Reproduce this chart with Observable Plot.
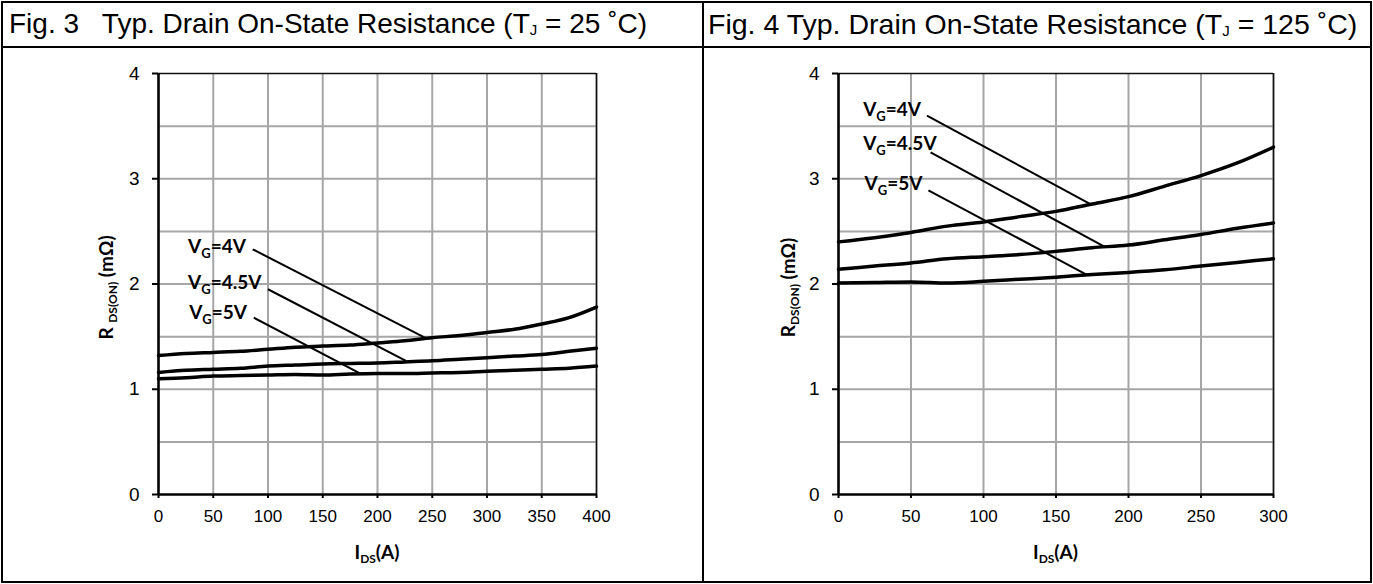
<!DOCTYPE html>
<html>
<head>
<meta charset="utf-8">
<script src="https://cdn.jsdelivr.net/npm/d3@7"></script>
<script src="https://cdn.jsdelivr.net/npm/@observablehq/plot@0.6"></script>
<style>
  html, body { margin: 0; padding: 0; background: #fff; }
  #wrap { position: relative; width: 1373px; height: 584px; overflow: hidden; font-family: "Liberation Sans", Arial, sans-serif; }
  .chart { position: absolute; top: 46px; }
  .panel { position: absolute; top: 1px; height: 582px; border: 2px solid #000; box-sizing: border-box; pointer-events: none; }
  .title { position: absolute; left: 0; right: 0; top: 0; height: 45px; border-bottom: 2px solid #000; box-sizing: border-box;
           font-size: 28px; line-height: 42px; white-space: pre; padding-left: 6px; color: #000; }
  .title sub { font-size: 15px; vertical-align: baseline; position: relative; top: 2px; }
</style>
</head>
<body>
<div id="wrap">
  <div id="c1" class="chart" style="left:0px"></div>
  <div id="c2" class="chart" style="left:700px"></div>
  <div class="panel" style="left:1px;width:703px"><div class="title">Fig. 3   Typ. Drain On-State Resistance (T<sub>J</sub> = 25 ˚C)</div></div>
  <div class="panel" style="left:702px;width:670px"><div class="title" style="padding-left:4px;font-size:28.5px">Fig. 4 Typ. Drain On-State Resistance (T<sub>J</sub> = 125 ˚C)</div></div>
</div>
<script>
// ---------- data : Fig. 3 (TJ = 25 °C) ----------
const ids25      = [0, 25, 50, 75, 100, 125, 150, 175, 200, 225, 250, 275, 300, 325, 350, 375, 400];
const rds25_vg4  = [1.32, 1.34, 1.35, 1.36, 1.38, 1.40, 1.41, 1.42, 1.44, 1.46, 1.49, 1.51, 1.54, 1.57, 1.62, 1.68, 1.78];
const rds25_vg45 = [1.16, 1.18, 1.19, 1.20, 1.22, 1.23, 1.24, 1.245, 1.25, 1.26, 1.27, 1.285, 1.30, 1.315, 1.33, 1.36, 1.39];
const rds25_vg5  = [1.10, 1.11, 1.125, 1.13, 1.135, 1.14, 1.135, 1.145, 1.15, 1.15, 1.155, 1.16, 1.17, 1.18, 1.19, 1.20, 1.22];

// ---------- data : Fig. 4 (TJ = 125 °C) ----------
const ids125      = [0, 25, 50, 75, 100, 125, 150, 175, 200, 225, 250, 275, 300];
const rds125_vg4  = [2.40, 2.44, 2.49, 2.55, 2.59, 2.64, 2.69, 2.76, 2.83, 2.93, 3.03, 3.15, 3.30];
const rds125_vg45 = [2.14, 2.17, 2.20, 2.24, 2.26, 2.28, 2.31, 2.345, 2.37, 2.42, 2.47, 2.53, 2.58];
const rds125_vg5  = [2.01, 2.015, 2.02, 2.01, 2.025, 2.045, 2.065, 2.09, 2.11, 2.135, 2.17, 2.205, 2.24];

// ---------- labels & leader lines ----------
const seriesNames   = ["V{G}=4V", "V{G}=4.5V", "V{G}=5V"];
const label25_x     = [27, 27, 28];
const label25_y     = [2.35, 2.01, 1.73];
const leader25_x1   = [86, 100, 87];
const leader25_y1   = [2.33, 1.95, 1.68];
const leader25_x2   = [245, 226, 184];
const leader25_y2   = [1.48, 1.27, 1.15];

const label125_x    = [17, 17, 18];
const label125_y    = [3.65, 3.335, 2.955];
const leader125_x1  = [61, 63.5, 62];
const leader125_y1  = [3.60, 3.25, 2.89];
const leader125_x2  = [175, 184, 171];
const leader125_y2  = [2.75, 2.35, 2.09];

// ---------- ticks ----------
const xTicks25  = [0, 50, 100, 150, 200, 250, 300, 350, 400];
const xTicks125 = [0, 50, 100, 150, 200, 250, 300];
const yTicks    = [0, 1, 2, 3, 4];
const yGrid     = [0.5, 1, 1.5, 2, 2.5, 3, 3.5];
const xLabel    = "I{DS}(A)";

function rows(xs, ys, name) { return xs.map((x, i) => ({x, y: ys[i], vg: name})); }
function zipLabels(xs, ys) { return seriesNames.map((t, i) => ({text: t, x: xs[i], y: ys[i]})); }
function zipLeaders(x1, y1, x2, y2) { return x1.map((v, i) => ({x1: v, y1: y1[i], x2: x2[i], y2: y2[i]})); }

function applySub(textEl, subSize, shift) {
  const s = textEl.textContent;
  if (!s.includes("{")) return;
  textEl.textContent = "";
  const parts = s.split(/(\{[^}]*\})/).filter(p => p.length);
  let prevSub = false;
  for (const p of parts) {
    const isSub = p.startsWith("{");
    const t = document.createElementNS("http://www.w3.org/2000/svg", "tspan");
    t.textContent = isSub ? p.slice(1, -1) : p;
    if (isSub) { t.setAttribute("font-size", subSize); t.setAttribute("dy", shift); }
    else if (prevSub) { t.setAttribute("dy", -shift); }
    textEl.appendChild(t);
    prevSub = isSub;
  }
}

function makeChart(opt) {
  const {width, mL, mR, xMax, xTicks, data, labels, leaders, yLabel, yLabelX} = opt;
  const H = 536, mT = 27, mB = 88;
  const svg = Plot.plot({
    width, height: H, marginLeft: mL, marginRight: mR, marginTop: mT, marginBottom: mB,
    x: {domain: [0, xMax]},
    y: {domain: [0, 4]},
    style: {fontFamily: "'Liberation Sans', Arial, sans-serif", background: "transparent", color: "#000"},
    marks: [
      Plot.gridX({ticks: xTicks, stroke: "#a6a6a6", strokeOpacity: 1, strokeWidth: 2}),
      Plot.gridY({ticks: yGrid, stroke: "#a6a6a6", strokeOpacity: 1, strokeWidth: 2}),
      Plot.ruleY([4], {stroke: "#111", strokeWidth: 1.5}),
      Plot.ruleX([xMax], {stroke: "#111", strokeWidth: 1.5}),
      Plot.axisY({ticks: yTicks, tickSize: 6, tickPadding: 13, fontSize: 19, label: null, strokeWidth: 2, tickFormat: d3.format("d")}),
      Plot.axisX({ticks: xTicks, tickSize: 4, tickPadding: 11, fontSize: 17, label: null, strokeWidth: 2, tickFormat: d3.format("d")}),
      Plot.ruleX([0], {stroke: "#000", strokeWidth: 2.5}),
      Plot.ruleY([0], {stroke: "#000", strokeWidth: 2.5}),
      Plot.line(data, {x: "x", y: "y", z: "vg", stroke: "#000", strokeWidth: 3.5, curve: "monotone-x"}),
      Plot.link(leaders, {x1: "x1", y1: "y1", x2: "x2", y2: "y2", stroke: "#000", strokeWidth: 2}),
      Plot.text(labels, {x: "x", y: "y", text: "text", textAnchor: "start", fontSize: 19, fontWeight: "bold",
                         fontFamily: "Lato, 'Open Sans', sans-serif", fill: "#000"})
    ]
  });
  svg.querySelectorAll("text").forEach(t => { if (t.textContent.includes("{")) applySub(t, 13, 5); });
  const sel = d3.select(svg);
  const cx = mL + (width - mL - mR) / 2;
  const xl = sel.append("text").attr("x", cx).attr("y", H - 23).attr("text-anchor", "middle")
    .attr("font-family", "Lato, 'Open Sans', sans-serif").attr("font-weight", "bold").attr("font-size", 19).attr("fill", "#000")
    .text(xLabel);
  applySub(xl.node(), 12, 4);
  const cy = mT + (H - mT - mB) / 2 + 4;
  const yl = sel.append("text").attr("transform", `translate(${yLabelX},${cy}) rotate(-90)`).attr("text-anchor", "middle")
    .attr("font-family", "Lato, 'Open Sans', sans-serif").attr("font-weight", "bold").attr("font-size", 19).attr("fill", "#000")
    .text(yLabel);
  applySub(yl.node(), 12, 4);
  return svg;
}

const data25 = [...rows(ids25, rds25_vg4, "4"), ...rows(ids25, rds25_vg45, "4.5"), ...rows(ids25, rds25_vg5, "5")];
const data125 = [...rows(ids125, rds125_vg4, "4"), ...rows(ids125, rds125_vg45, "4.5"), ...rows(ids125, rds125_vg5, "5")];

document.getElementById("c1").appendChild(makeChart({
  width: 690, mL: 158, mR: 94, xMax: 400, xTicks: xTicks25, data: data25,
  labels: zipLabels(label25_x, label25_y),
  leaders: zipLeaders(leader25_x1, leader25_y1, leader25_x2, leader25_y2),
  yLabel: "R {DS(ON)} (mΩ)", yLabelX: 113
}));
document.getElementById("c2").appendChild(makeChart({
  width: 665, mL: 138, mR: 92, xMax: 300, xTicks: xTicks125, data: data125,
  labels: zipLabels(label125_x, label125_y),
  leaders: zipLeaders(leader125_x1, leader125_y1, leader125_x2, leader125_y2),
  yLabel: "R{DS(ON)} (mΩ)", yLabelX: 95
}));
</script>
</body>
</html>
